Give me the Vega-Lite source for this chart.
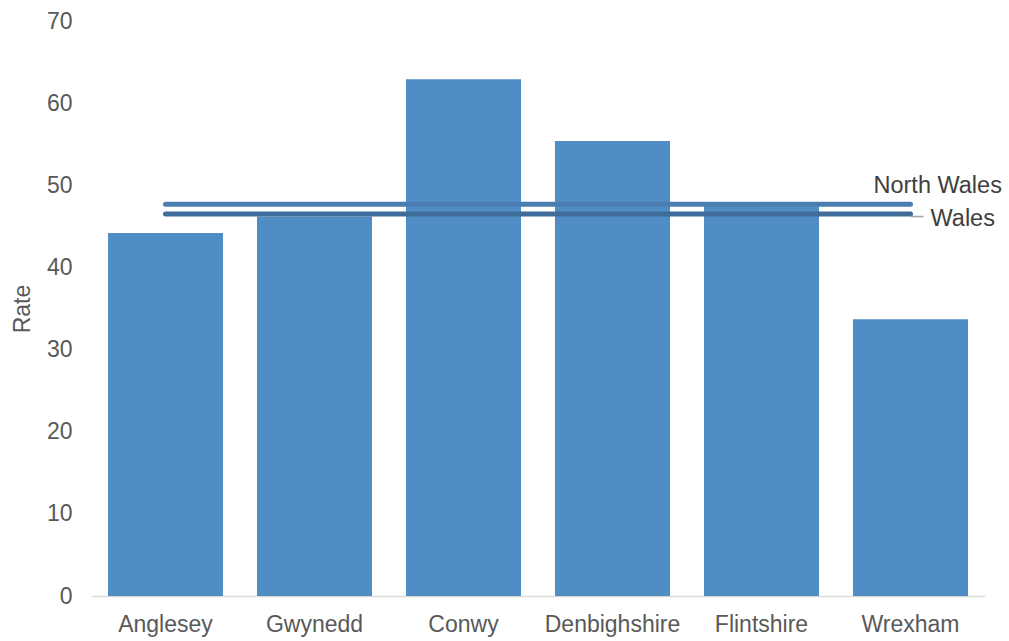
{
  "$schema": "https://vega.github.io/schema/vega-lite/v6.json",
  "autosize": "none",
  "width": 894,
  "height": 575,
  "padding": {"left": 91, "top": 21, "right": 24, "bottom": 45},
  "background": "white",
  "config": {
    "view": {"stroke": null},
    "font": "Liberation Sans",
    "axis": {"labelFont": "Liberation Sans", "titleFont": "Liberation Sans", "labelColor": "#595959", "titleColor": "#595959"}
  },
  "data": {
    "values": [
      {"area": "Anglesey", "rate": 44.2, "northWales": 47.7, "wales": 46.5},
      {"area": "Gwynedd", "rate": 46.2, "northWales": 47.7, "wales": 46.5},
      {"area": "Conwy", "rate": 62.9, "northWales": 47.7, "wales": 46.5},
      {"area": "Denbighshire", "rate": 55.4, "northWales": 47.7, "wales": 46.5},
      {"area": "Flintshire", "rate": 47.8, "northWales": 47.7, "wales": 46.5},
      {"area": "Wrexham", "rate": 33.7, "northWales": 47.7, "wales": 46.5}
    ]
  },
  "encoding": {
    "x": {
      "field": "area", "type": "nominal", "sort": null,
      "scale": {"paddingInner": 0.228, "paddingOuter": 0.114},
      "axis": {"title": null, "labelAngle": 0, "labelFontSize": 23, "labelPadding": 17, "labelOverlap": false, "ticks": false, "domainColor": "#d9d9d9", "domainWidth": 1.5}
    }
  },
  "layer": [
    {
      "mark": {"type": "bar", "color": "#508DC4"},
      "encoding": {
        "y": {
          "field": "rate", "type": "quantitative",
          "scale": {"domain": [0, 70], "nice": false},
          "axis": {"title": "Rate", "titleFontSize": 23, "titleFontWeight": "normal", "titlePadding": 12, "labelFontSize": 23, "labelPadding": 19, "labelOverlap": false, "labelBound": false, "values": [0,10,20,30,40,50,60,70], "grid": false, "domain": false, "ticks": false}
        }
      }
    },
    {
      "mark": {"type": "line", "color": "#4A7DB2", "strokeWidth": 5, "strokeCap": "round"},
      "encoding": {"y": {"field": "northWales", "type": "quantitative"}}
    },
    {
      "mark": {"type": "line", "color": "#3F6C99", "strokeWidth": 5, "strokeCap": "round"},
      "encoding": {"y": {"field": "wales", "type": "quantitative"}}
    },
    {
      "transform": [{"filter": "datum.area === 'Wrexham'"}],
      "mark": {"type": "rule", "color": "#A6A6A6", "strokeWidth": 1.5, "x2Offset": 13, "yOffset": 2.5, "y2Offset": 2.5},
      "encoding": {"x2": {"field": "area"}, "y": {"field": "wales", "type": "quantitative"}}
    },
    {
      "transform": [{"filter": "datum.area === 'Wrexham'"}],
      "mark": {"type": "text", "align": "left", "baseline": "middle", "fontSize": 23.5, "color": "#404040", "dx": -37, "dy": -18},
      "encoding": {"y": {"field": "northWales", "type": "quantitative"}, "text": {"value": "North Wales"}}
    },
    {
      "transform": [{"filter": "datum.area === 'Wrexham'"}],
      "mark": {"type": "text", "align": "left", "baseline": "middle", "fontSize": 23.5, "color": "#404040", "dx": 20, "dy": 5},
      "encoding": {"y": {"field": "wales", "type": "quantitative"}, "text": {"value": "Wales"}}
    }
  ]
}
